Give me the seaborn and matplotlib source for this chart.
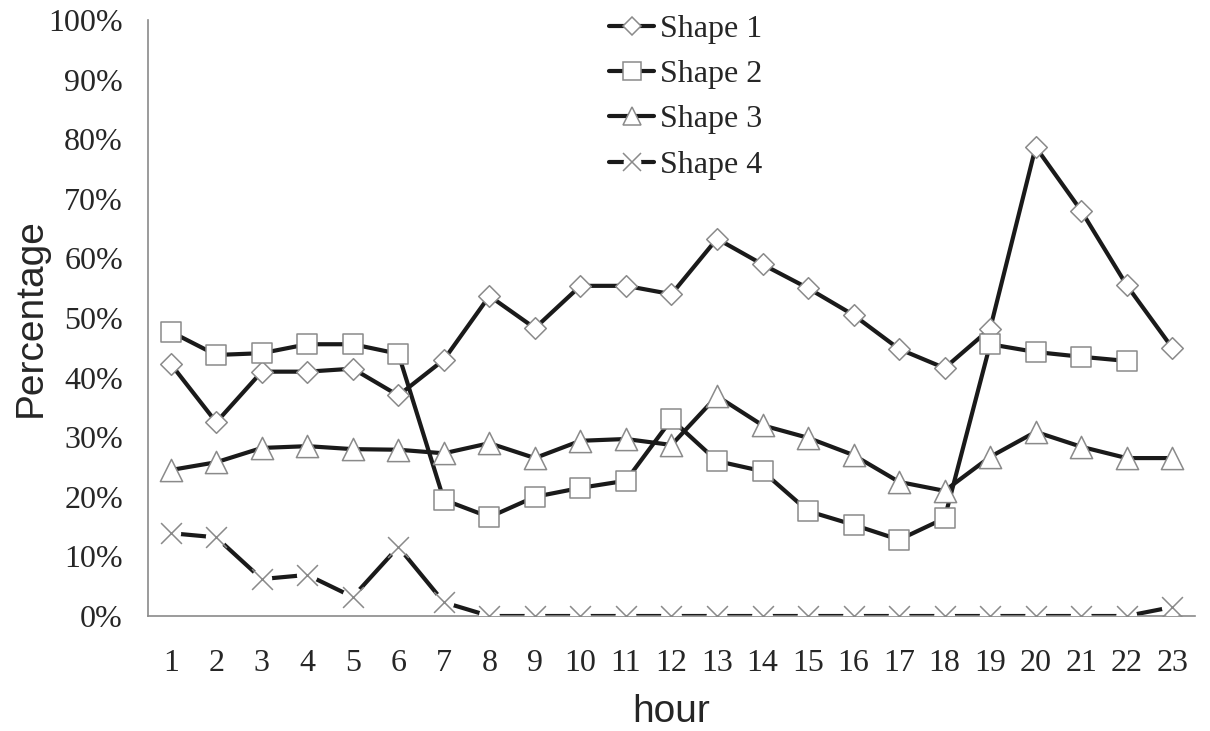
import matplotlib
matplotlib.use("Agg")
import matplotlib.pyplot as plt
import seaborn as sns
import numpy as np
import pandas as pd
from matplotlib.lines import Line2D
from matplotlib.legend_handler import HandlerTuple

hours = list(range(1, 24))
shape1 = [42.3, 32.5, 41.0, 41.0, 41.5, 37.0, 43.0, 53.7, 48.3, 55.4, 55.4, 54.0,
          63.3, 59.0, 55.0, 50.5, 44.8, 41.6, 48.2, 78.7, 68.0, 55.5, 45.0]
shape2 = [47.7, 43.8, 44.1, 45.6, 45.6, 44.0, 19.5, 16.6, 20.0, 21.5, 22.7, 33.0,
          26.0, 24.3, 17.6, 15.3, 12.8, 16.4, 45.6, 44.3, 43.5, 42.8, np.nan]
shape3 = [24.5, 25.8, 28.2, 28.5, 28.0, 27.9, 27.3, 29.0, 26.5, 29.4, 29.7, 28.7,
          36.9, 32.0, 29.9, 27.0, 22.5, 21.0, 26.7, 30.9, 28.4, 26.5, 26.5]
shape4 = [13.9, 13.2, 6.2, 6.9, 3.2, 11.6, 2.3, 0, 0, 0, 0, 0,
          0, 0, 0, 0, 0, 0, 0, 0, 0, 0, 1.5]
series_names = ["Shape 1", "Shape 2", "Shape 3", "Shape 4"]
y_ticks = list(range(0, 101, 10))

sns.set_style("white")
plt.rcParams['font.family'] = ['Liberation Serif', 'DejaVu Serif']

fig = plt.figure(figsize=(12.1, 7.31), dpi=100)
ax = fig.add_axes([0.1223, 0.1573, 0.8653, 0.8153])

df = pd.DataFrame({"hour": hours, "Shape 1": shape1, "Shape 2": shape2,
                   "Shape 3": shape3, "Shape 4": shape4})

markers = {"Shape 1": "D", "Shape 2": "s", "Shape 3": "^", "Shape 4": "x"}
msizes = {"Shape 1": 11, "Shape 2": 15, "Shape 3": 16, "Shape 4": 15}
lw = 3.0
edge = "#8a8a8a"

handles = []
for name in series_names:
    vals = df[["hour", name]].dropna()
    sns.lineplot(x=vals["hour"], y=vals[name], ax=ax, color="#1a1a1a",
                 linewidth=lw, legend=False, zorder=2)
    ms = msizes[name]
    lms = ms * 0.85
    if name == "Shape 4":
        sns.scatterplot(x=vals["hour"], y=vals[name], ax=ax, marker="o", s=ms ** 2,
                        color="white", edgecolor="none", linewidth=0, legend=False, zorder=3)
        sns.scatterplot(x=vals["hour"], y=vals[name], ax=ax, marker="x", s=ms ** 2,
                        color=edge, linewidth=1.1, legend=False, zorder=4)
        h = (Line2D([], [], color="#1a1a1a", lw=lw),
             Line2D([], [], ls="none", marker="o", ms=lms, mfc="white", mec="none"),
             Line2D([], [], ls="none", marker="x", ms=lms, mec=edge, mew=1.1))
    else:
        sns.scatterplot(x=vals["hour"], y=vals[name], ax=ax, marker=markers[name], s=ms ** 2,
                        color="white", edgecolor=edge, linewidth=1.1, legend=False, zorder=4)
        h = Line2D([], [], color="#1a1a1a", lw=lw, marker=markers[name], ms=lms,
                   mfc="white", mec=edge, mew=1.1)
    handles.append(h)

ax.set_xlim(0.5, 23.5)
ax.set_ylim(0, 100)
ax.set_yticks(y_ticks)
ax.set_yticklabels([f"{t}%" for t in y_ticks], fontsize=23)
ax.set_xticks(hours)
ax.set_xticklabels([str(h) for h in hours], fontsize=23)
ax.set_xticks(np.arange(0.5, 24, 1), minor=True)
ax.tick_params(axis="x", which="major", length=0, pad=24)
ax.tick_params(axis="x", which="minor", length=8, color=edge, direction="out", width=1)
ax.tick_params(axis="y", which="major", length=8, color=edge, direction="out", width=1, pad=10)

for s in ["top", "right"]:
    ax.spines[s].set_visible(False)
for s in ["left", "bottom"]:
    ax.spines[s].set_color(edge)
    ax.spines[s].set_linewidth(1.2)

ax.set_xlabel("hour", fontsize=28, family=["Liberation Sans", "DejaVu Sans"], labelpad=11)
ax.set_ylabel("Percentage", fontsize=28, family=["Liberation Sans", "DejaVu Sans"], labelpad=0)

leg = ax.legend(handles, series_names, loc="upper left",
                bbox_to_anchor=(603 / 1210, 1 - 8 / 731), bbox_transform=fig.transFigure,
                frameon=False, fontsize=23, handlelength=1.4, handletextpad=0.2,
                labelspacing=0.5, borderaxespad=0, borderpad=0.2,
                handler_map={tuple: HandlerTuple(ndivide=1, pad=0)})

fig.savefig("out.png", dpi=100, facecolor="white")
